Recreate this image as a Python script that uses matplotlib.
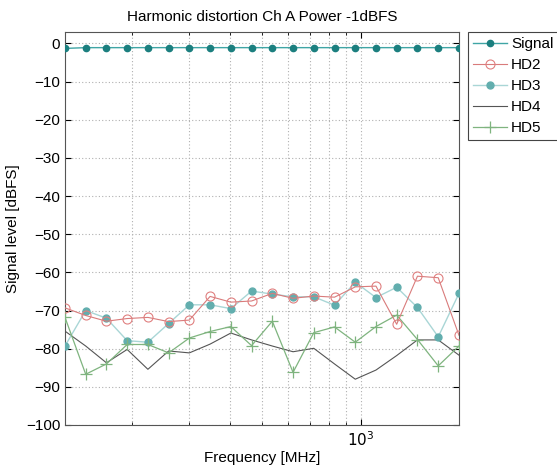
import numpy as np
import matplotlib
matplotlib.use("Agg")
import matplotlib.pyplot as plt
from matplotlib.ticker import FixedLocator, NullFormatter, FuncFormatter

plt.rcParams["font.family"] = ["Liberation Sans", "DejaVu Sans"]
fs = 11

# measurement frequencies [MHz]
freq = [125.0, 144.6, 167.3, 193.6, 224.0, 259.2, 299.9, 347.0, 401.5, 464.6,
        537.6, 622.1, 719.8, 832.9, 963.8, 1115.0, 1290.0, 1493.0, 1728.0, 2000.0]

signal = [-1.3, -1.1, -1.1, -1.1, -1.1, -1.1, -1.1, -1.1, -1.1, -1.1,
          -1.1, -1.1, -1.1, -1.1, -1.1, -1.1, -1.1, -1.1, -1.1, -1.1]
hd2 = [-69.3, -71.3, -72.8, -72.1, -71.8, -72.9, -72.5, -66.3, -67.8, -67.5,
       -65.5, -66.8, -66.2, -66.5, -63.8, -63.6, -73.6, -61.0, -61.4, -76.5]
hd3 = [-79.3, -70.0, -72.0, -77.9, -78.3, -73.4, -68.5, -68.5, -69.5, -64.9,
       -65.7, -66.4, -66.4, -68.6, -62.6, -66.6, -63.9, -69.2, -76.9, -65.5]
hd4 = [-75.4, -79.3, -83.7, -80.2, -85.4, -80.6, -81.1, -78.8, -75.9, -77.7,
       -79.3, -80.8, -79.9, -84.0, -88.0, -85.6, -81.8, -77.7, -77.7, -81.7]
hd5 = [-71.8, -86.7, -84.0, -78.9, -78.9, -81.1, -77.2, -75.5, -74.2, -79.2,
       -72.8, -86.2, -75.8, -74.3, -78.3, -74.2, -71.2, -77.6, -84.5, -79.3]

fig = plt.figure(figsize=(5.57, 4.70), dpi=100)
ax = fig.add_axes([65 / 557, 45 / 470, 394 / 557, 393 / 470])

ax.plot(freq, signal, color="#3fa5a5", linewidth=1.0, marker="o", markersize=4.5,
        markerfacecolor="#1b7f7f", markeredgecolor="#1b7f7f", label="Signal", zorder=5)
ax.plot(freq, hd2, color="#d97b7b", linewidth=0.8, marker="o", markersize=6.5,
        markerfacecolor="none", markeredgecolor="#e08080", markeredgewidth=0.8,
        label="HD2", zorder=4)
ax.plot(freq, hd3, color="#a9d6d6", linewidth=1.0, marker="o", markersize=5,
        markerfacecolor="#62aeae", markeredgecolor="#62aeae", label="HD3", zorder=3)
ax.plot(freq, hd4, color="#555555", linewidth=0.8, label="HD4", zorder=2)
ax.plot(freq, hd5, color="#7fb47f", linewidth=0.9, marker="+", markersize=8,
        markeredgewidth=0.9, label="HD5", zorder=3)

ax.set_xscale("log")
ax.set_xlim(125, 2000)
ax.set_ylim(-100, 3)
ax.set_yticks(np.arange(-100, 1, 10))
ax.xaxis.set_major_locator(FixedLocator([1000]))
ax.xaxis.set_major_formatter(FuncFormatter(lambda v, p: r"$10^3$"))
ax.xaxis.set_minor_locator(FixedLocator([200, 300, 400, 500, 600, 700, 800, 900]))
ax.xaxis.set_minor_formatter(NullFormatter())

ax.grid(True, which="both", linestyle=(0, (1, 2)), color="#b0b0b0", linewidth=0.8)
ax.tick_params(which="both", direction="in", top=True, right=True, labelsize=fs)
ax.tick_params(which="major", length=4)
ax.tick_params(which="minor", length=2)
for s in ax.spines.values():
    s.set_color("#555555")

ax.set_title("Harmonic distortion Ch A Power -1dBFS", fontsize=fs, pad=8)
ax.set_xlabel("Frequency [MHz]", fontsize=fs, labelpad=2)
ax.set_ylabel("Signal level [dBFS]", fontsize=fs)

leg = ax.legend(loc="upper left", bbox_to_anchor=(1.022, 1.0), fontsize=fs,
                fancybox=False, framealpha=1, edgecolor="#444444",
                handlelength=2.2, borderpad=0.35, labelspacing=0.45,
                handletextpad=0.3, borderaxespad=0.0)
leg.get_frame().set_linewidth(0.8)

fig.savefig("out.png", dpi=100)
